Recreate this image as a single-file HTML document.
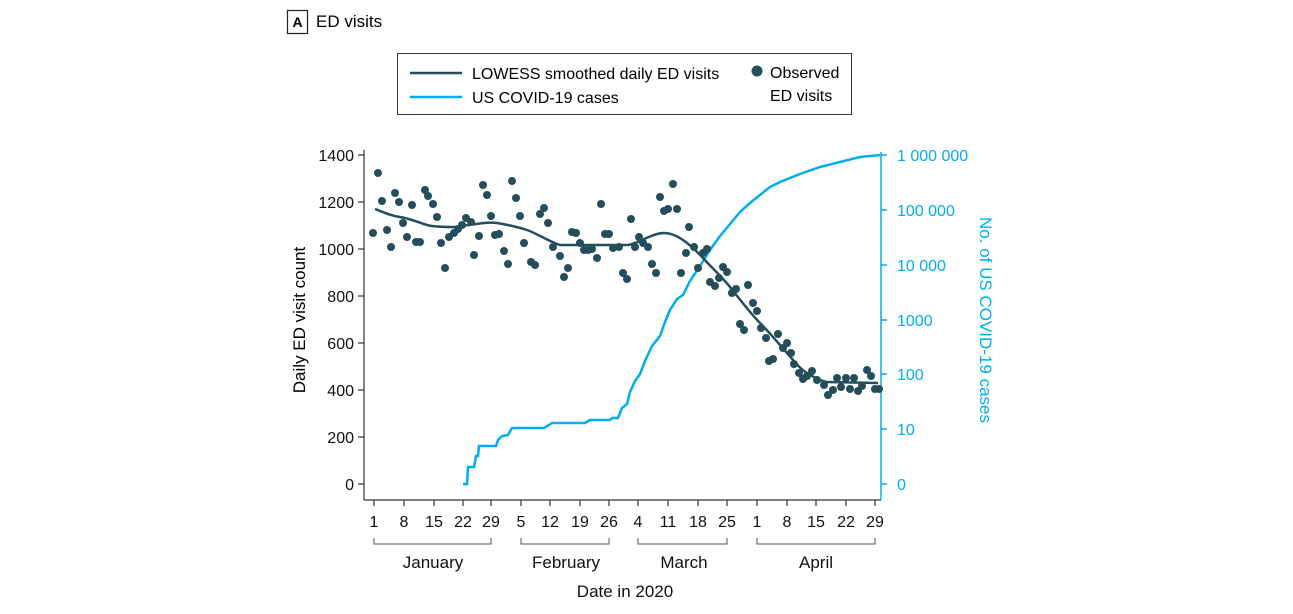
<!DOCTYPE html>
<html><head><meta charset="utf-8"><style>
body{margin:0;background:#fff;font-family:"Liberation Sans",sans-serif;}
</style></head><body>
<svg width="1293" height="609" xmlns="http://www.w3.org/2000/svg" font-family="Liberation Sans, sans-serif">
<rect x="287.5" y="10.5" width="20" height="23" fill="none" stroke="#222" stroke-width="1.2"/>
<text x="297.5" y="27" font-size="14" font-weight="bold" text-anchor="middle">A</text>
<text x="316" y="27" font-size="17">ED visits</text>
<rect x="397.5" y="53.5" width="454" height="61" fill="none" stroke="#333" stroke-width="1"/>
<line x1="410" y1="73" x2="462" y2="73" stroke="#244e5c" stroke-width="2.5"/>
<text x="472" y="79" font-size="16">LOWESS smoothed daily ED visits</text>
<line x1="410" y1="97" x2="462" y2="97" stroke="#00aeef" stroke-width="2.5"/>
<text x="472" y="103" font-size="16">US COVID-19 cases</text>
<circle cx="757" cy="71" r="5.5" fill="#244e5c"/>
<text x="770" y="78" font-size="16">Observed</text>
<text x="770" y="101" font-size="16">ED visits</text>
<g stroke="#333" stroke-width="1.2">
<line x1="364" y1="150" x2="364" y2="500"/>
<line x1="364" y1="500" x2="881" y2="500"/>
</g>
<g font-size="16" text-anchor="end" fill="#111">
<text x="354" y="161">1400</text><text x="354" y="208">1200</text><text x="354" y="255">1000</text><text x="354" y="302">800</text><text x="354" y="349">600</text><text x="354" y="396">400</text><text x="354" y="443">200</text><text x="354" y="490">0</text>
</g>
<g stroke="#333" stroke-width="1.2">
<line x1="358" y1="155" x2="364" y2="155"/><line x1="358" y1="202" x2="364" y2="202"/><line x1="358" y1="249" x2="364" y2="249"/><line x1="358" y1="296" x2="364" y2="296"/><line x1="358" y1="343" x2="364" y2="343"/><line x1="358" y1="390" x2="364" y2="390"/><line x1="358" y1="437" x2="364" y2="437"/><line x1="358" y1="484" x2="364" y2="484"/>
</g>
<text transform="translate(305,320) rotate(-90)" font-size="17" text-anchor="middle">Daily ED visit count</text>
<g stroke="#00aeef" stroke-width="1.5">
<line x1="881" y1="152" x2="881" y2="500"/>
<line x1="881" y1="155" x2="887" y2="155"/><line x1="881" y1="210" x2="887" y2="210"/><line x1="881" y1="265" x2="887" y2="265"/><line x1="881" y1="320" x2="887" y2="320"/><line x1="881" y1="374" x2="887" y2="374"/><line x1="881" y1="429" x2="887" y2="429"/><line x1="881" y1="484" x2="887" y2="484"/>
</g>
<g font-size="16" fill="#00aeef">
<text x="897" y="161">1 000 000</text><text x="897" y="216">100 000</text><text x="897" y="271">10 000</text><text x="897" y="326">1000</text><text x="897" y="380">100</text><text x="897" y="435">10</text><text x="897" y="490">0</text>
</g>
<text transform="translate(980,320) rotate(90)" font-size="17" fill="#00aeef" text-anchor="middle">No. of US COVID-19 cases</text>
<g stroke="#333" stroke-width="1.2">
<line x1="374" y1="500" x2="374" y2="506"/><line x1="404" y1="500" x2="404" y2="506"/><line x1="434" y1="500" x2="434" y2="506"/><line x1="463" y1="500" x2="463" y2="506"/><line x1="491" y1="500" x2="491" y2="506"/><line x1="521" y1="500" x2="521" y2="506"/><line x1="550" y1="500" x2="550" y2="506"/><line x1="580" y1="500" x2="580" y2="506"/><line x1="609" y1="500" x2="609" y2="506"/><line x1="638" y1="500" x2="638" y2="506"/><line x1="668" y1="500" x2="668" y2="506"/><line x1="698" y1="500" x2="698" y2="506"/><line x1="727" y1="500" x2="727" y2="506"/><line x1="757" y1="500" x2="757" y2="506"/><line x1="787" y1="500" x2="787" y2="506"/><line x1="816" y1="500" x2="816" y2="506"/><line x1="846" y1="500" x2="846" y2="506"/><line x1="875" y1="500" x2="875" y2="506"/>
</g>
<g font-size="16" text-anchor="middle" fill="#111">
<text x="374" y="527">1</text><text x="404" y="527">8</text><text x="434" y="527">15</text><text x="463" y="527">22</text><text x="491" y="527">29</text><text x="521" y="527">5</text><text x="550" y="527">12</text><text x="580" y="527">19</text><text x="609" y="527">26</text><text x="638" y="527">4</text><text x="668" y="527">11</text><text x="698" y="527">18</text><text x="727" y="527">25</text><text x="757" y="527">1</text><text x="787" y="527">8</text><text x="816" y="527">15</text><text x="846" y="527">22</text><text x="875" y="527">29</text>
</g>
<g stroke="#555" stroke-width="1" fill="none">
<path d="M374,538 V544 H491 V538"/><path d="M521,538 V544 H609 V538"/><path d="M638,538 V544 H727 V538"/><path d="M757,538 V544 H875 V538"/>
</g>
<g font-size="17" text-anchor="middle" fill="#111">
<text x="433" y="568">January</text><text x="566" y="568">February</text><text x="684" y="568">March</text><text x="816" y="568">April</text>
<text x="625" y="597">Date in 2020</text>
</g>
<polyline fill="none" stroke="#00aeef" stroke-width="2.5" points="463,484 467,484 468,467 474,467 476,456 478,456 479,446 496,446 498,440 502,436 508,435 512,428 544,428 552,423 585,423 590,420 610,420 612,418 618,418 622,408 627,404 630,392 635,381 640,374 645,361 652,346 660,336 665,322 670,310 677,299 683,295 690,281 700,266 710,250 720,236 730,224 740,212 750,203 760,195 770,187 780,182 800,174 820,167 840,162 860,157 880,155"/>
<g fill="#244e5c">
<circle cx="373" cy="233" r="4"/><circle cx="378" cy="173" r="4"/><circle cx="382" cy="201" r="4"/><circle cx="387" cy="230" r="4"/><circle cx="391" cy="247" r="4"/><circle cx="395" cy="193" r="4"/><circle cx="399" cy="202" r="4"/><circle cx="403" cy="223" r="4"/><circle cx="407" cy="237" r="4"/><circle cx="412" cy="205" r="4"/><circle cx="416" cy="242" r="4"/><circle cx="420" cy="242" r="4"/><circle cx="425" cy="190" r="4"/><circle cx="428" cy="196" r="4"/><circle cx="433" cy="204" r="4"/><circle cx="437" cy="217" r="4"/><circle cx="441" cy="243" r="4"/><circle cx="445" cy="268" r="4"/><circle cx="449" cy="237" r="4"/><circle cx="454" cy="233" r="4"/><circle cx="458" cy="229" r="4"/><circle cx="462" cy="225" r="4"/><circle cx="466" cy="218" r="4"/><circle cx="471" cy="222" r="4"/><circle cx="474" cy="255" r="4"/><circle cx="479" cy="236" r="4"/><circle cx="483" cy="185" r="4"/><circle cx="487" cy="195" r="4"/><circle cx="491" cy="216" r="4"/><circle cx="495" cy="235" r="4"/><circle cx="499" cy="234" r="4"/><circle cx="504" cy="251" r="4"/><circle cx="508" cy="264" r="4"/><circle cx="512" cy="181" r="4"/><circle cx="516" cy="198" r="4"/><circle cx="520" cy="216" r="4"/><circle cx="524" cy="243" r="4"/><circle cx="531" cy="262" r="4"/><circle cx="535" cy="265" r="4"/><circle cx="540" cy="214" r="4"/><circle cx="544" cy="208" r="4"/><circle cx="548" cy="223" r="4"/><circle cx="553" cy="247" r="4"/><circle cx="560" cy="256" r="4"/><circle cx="564" cy="277" r="4"/><circle cx="568" cy="268" r="4"/><circle cx="572" cy="232" r="4"/><circle cx="576" cy="233" r="4"/><circle cx="580" cy="243" r="4"/><circle cx="584" cy="250" r="4"/><circle cx="588" cy="250" r="4"/><circle cx="592" cy="249" r="4"/><circle cx="597" cy="258" r="4"/><circle cx="601" cy="204" r="4"/><circle cx="605" cy="234" r="4"/><circle cx="609" cy="234" r="4"/><circle cx="613" cy="248" r="4"/><circle cx="619" cy="247" r="4"/>
<circle cx="623" cy="273" r="4"/><circle cx="627" cy="279" r="4"/><circle cx="631" cy="219" r="4"/><circle cx="635" cy="247" r="4"/><circle cx="639" cy="237" r="4"/><circle cx="643" cy="243" r="4"/><circle cx="648" cy="247" r="4"/><circle cx="652" cy="264" r="4"/><circle cx="656" cy="273" r="4"/><circle cx="660" cy="197" r="4"/><circle cx="664" cy="211" r="4"/><circle cx="668" cy="209" r="4"/><circle cx="673" cy="184" r="4"/><circle cx="677" cy="209" r="4"/><circle cx="681" cy="273" r="4"/><circle cx="686" cy="253" r="4"/><circle cx="689" cy="227" r="4"/><circle cx="694" cy="247" r="4"/><circle cx="698" cy="268" r="4"/><circle cx="703" cy="253" r="4"/><circle cx="707" cy="249" r="4"/>
<circle cx="710" cy="282" r="4"/><circle cx="715" cy="286" r="4"/><circle cx="719" cy="278" r="4"/><circle cx="723" cy="267" r="4"/><circle cx="727" cy="272" r="4"/><circle cx="732" cy="293" r="4"/><circle cx="736" cy="289" r="4"/><circle cx="740" cy="324" r="4"/><circle cx="744" cy="330" r="4"/><circle cx="748" cy="285" r="4"/><circle cx="753" cy="303" r="4"/><circle cx="757" cy="311" r="4"/><circle cx="761" cy="328" r="4"/><circle cx="766" cy="338" r="4"/><circle cx="769" cy="361" r="4"/><circle cx="773" cy="359" r="4"/><circle cx="778" cy="334" r="4"/><circle cx="783" cy="348" r="4"/><circle cx="787" cy="343" r="4"/><circle cx="791" cy="353" r="4"/><circle cx="794" cy="364" r="4"/><circle cx="799" cy="373" r="4"/><circle cx="803" cy="379" r="4"/><circle cx="807" cy="376" r="4"/><circle cx="812" cy="371" r="4"/><circle cx="817" cy="380" r="4"/><circle cx="824" cy="385" r="4"/><circle cx="828" cy="395" r="4"/><circle cx="833" cy="390" r="4"/><circle cx="837" cy="378" r="4"/><circle cx="841" cy="387" r="4"/><circle cx="846" cy="378" r="4"/><circle cx="850" cy="389" r="4"/><circle cx="854" cy="378" r="4"/><circle cx="858" cy="391" r="4"/><circle cx="862" cy="386" r="4"/><circle cx="867" cy="370" r="4"/><circle cx="871" cy="376" r="4"/><circle cx="875" cy="389" r="4"/><circle cx="879" cy="389" r="4"/>
</g>
<path fill="none" stroke="#244e5c" stroke-width="2.5" d="M375,209 C385,213 392,216 400,217 S420,223 427,225 S445,227 453,227 S485,221 497,223 S518,227 527,230 S548,241 560,245 L628,245 C640,243 650,234 663,233 S690,244 702,257 S722,277 730,287 S750,313 760,323 S780,345 787,353 S800,369 807,373 S820,381 827,382 L878,383"/>
</svg>
</body></html>
